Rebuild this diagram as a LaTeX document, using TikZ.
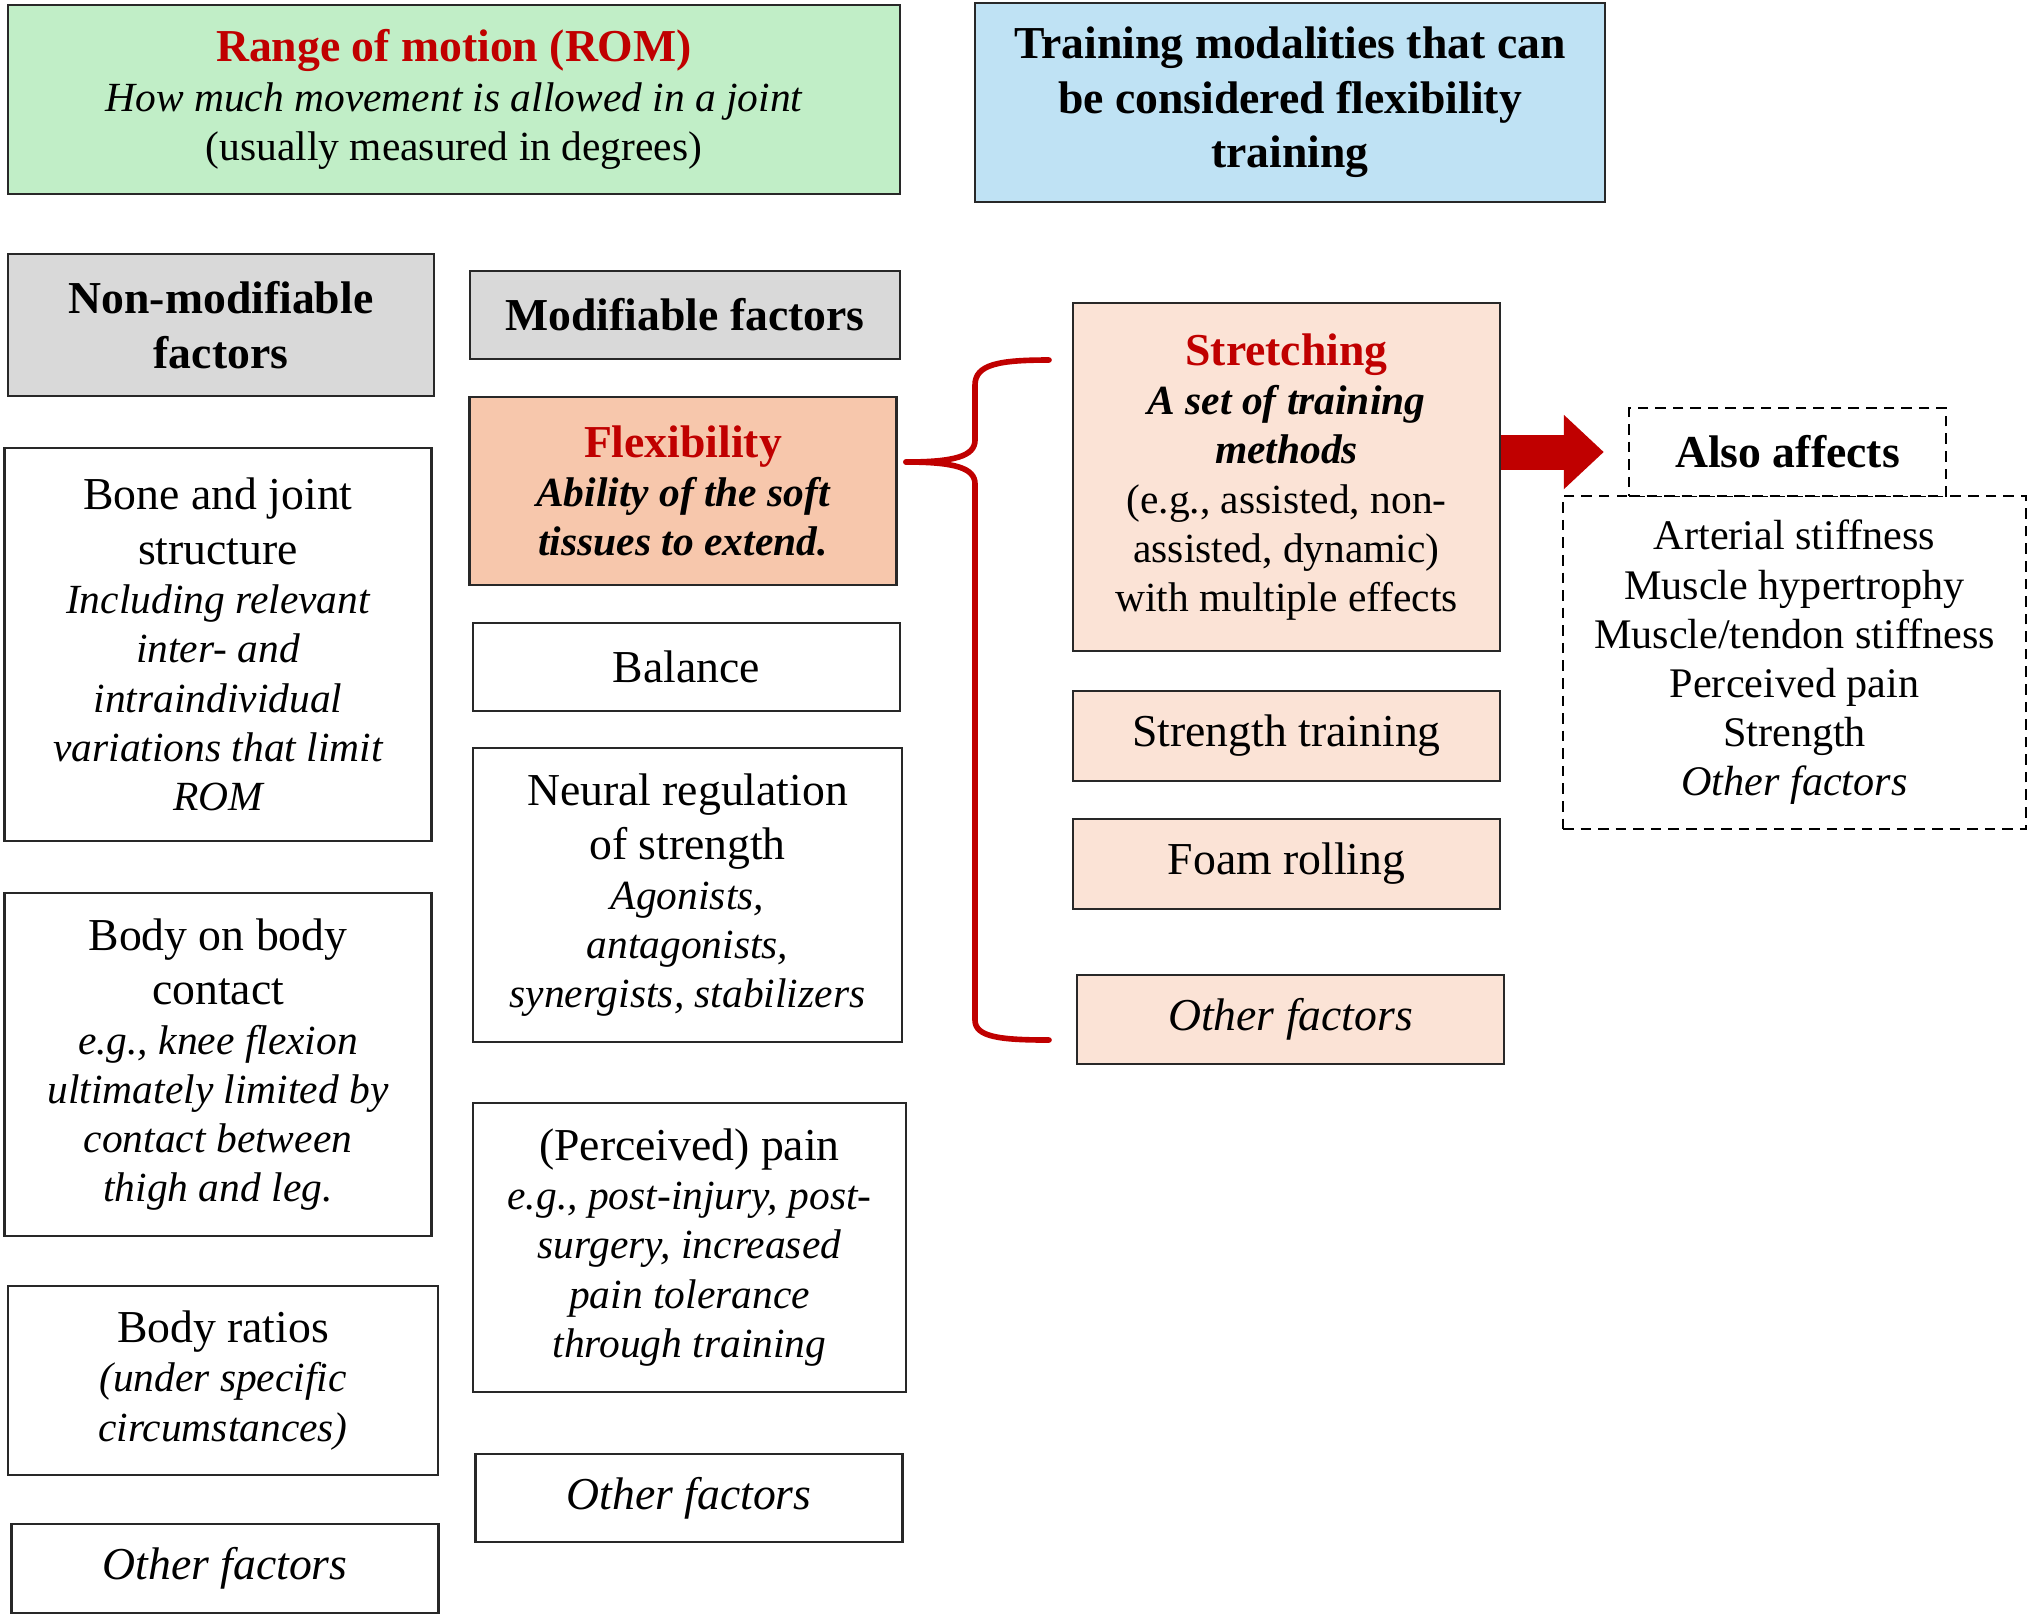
\documentclass[tikz,border=0pt]{standalone}
\usepackage{fontspec}
\setmainfont{Liberation Serif}
\usetikzlibrary{arrows.meta,calc}

\definecolor{romgreen}{RGB}{193,238,199}
\definecolor{trainblue}{RGB}{191,226,244}
\definecolor{headgray}{RGB}{217,217,217}
\definecolor{flexorange}{RGB}{247,199,172}
\definecolor{stretchpeach}{RGB}{251,227,214}
\definecolor{darkred}{RGB}{192,0,0}
\definecolor{boxline}{RGB}{40,40,40}

\newcommand{\redhead}[1]{{\color{darkred}\bfseries #1}}
% smaller text below the first lines of a box
\newcommand{\descpart}{\par\fontsize{11.8}{14}\selectfont}

\begin{document}
\begin{tikzpicture}[
        every node/.style={font=\fontsize{13}{15.5}\selectfont},
        factor/.style={rectangle, draw=boxline, line width=0.8pt, fill=white, text width=4.1cm, inner sep=0.085cm, align=flush center},
        header/.style={factor, fill=headgray, font=\fontsize{13}{15.5}\selectfont\bfseries},
        modality/.style={factor, fill=stretchpeach},
        effectbox/.style={rectangle, draw=black, line width=0.7pt, dash pattern=on 3pt off 2pt, align=center, inner sep=0.085cm},
        bigarrow/.style={-{Triangle[length=0.4cm, width=0.72cm]}, line width=0.35cm, draw=darkred},
        brace/.style={draw=darkred, line width=1.6pt, line cap=round}
        ]
        \useasboundingbox (0,0) rectangle (20.30,-16.21);

        % Top row
        \node[factor, fill=romgreen, text width=8.75cm, minimum height=1.89cm] (rom) at (4.54,-0.995) {\redhead{Range of motion (ROM)}\descpart\itshape How much movement is allowed in a joint\\\upshape (usually measured in degrees)\par};
        \node[header, fill=trainblue, text width=6.13cm, minimum height=1.99cm] (train) at (12.90,-1.025) {Training modalities that can\\be considered flexibility\\training};

        % Non-modifiable factors (left column)
        \node[header, text width=4.09cm, minimum height=1.42cm] (nonmod) at (2.21,-3.25) {Non-modifiable\\factors};
        \node[factor, minimum height=3.93cm] (bone) at (2.18,-6.445) {Bone and joint\\structure\descpart\itshape Including relevant\\inter- and\\intraindividual\\variations that limit\\ROM\par};
        \node[factor, minimum height=3.43cm] (contact) at (2.18,-10.645) {Body on body\\contact\descpart\itshape e.g., knee flexion\\ultimately limited by\\contact between\\thigh and leg.\par};
        \node[factor, text width=4.13cm, minimum height=1.89cm] (ratios) at (2.23,-13.805) {Body ratios\descpart\itshape (under specific\\circumstances)\par};
        \node[factor, minimum height=0.89cm] (otherleft) at (2.25,-15.685) {\itshape Other factors};

        % Modifiable factors (middle column)
        \node[header, text width=4.13cm, minimum height=0.88cm] (mod) at (6.85,-3.15) {Modifiable factors};
        \node[factor, fill=flexorange, minimum height=1.88cm] (flex) at (6.83,-4.91) {\redhead{Flexibility}\descpart\bfseries\itshape Ability of the soft\\tissues to extend.\par};
        \node[factor, minimum height=0.88cm] (balance) at (6.865,-6.67) {Balance};
        \node[factor, text width=4.12cm, minimum height=2.94cm] (neural) at (6.875,-8.95) {Neural regulation\\of strength\descpart\itshape Agonists,\\antagonists,\\synergists, stabilizers\par};
        \node[factor, text width=4.16cm, minimum height=2.89cm] (pain) at (6.895,-12.475) {(Perceived) pain\descpart\itshape e.g., post-injury, post-\\surgery, increased\\pain tolerance\\through training\par};
        \node[factor, minimum height=0.88cm] (othermid) at (6.89,-14.98) {\itshape Other factors};

        % Training modalities (right column)
        \node[modality, minimum height=3.48cm] (stretch) at (12.865,-4.77) {\redhead{Stretching}\descpart{\bfseries\itshape A set of training\\methods}\\(e.g., assisted, non-\\assisted, dynamic)\\with multiple effects\par};
        \node[modality, minimum height=0.90cm] (strength) at (12.865,-7.36) {Strength training};
        \node[modality, minimum height=0.90cm] (foam) at (12.865,-8.64) {Foam rolling};
        \node[modality, minimum height=0.89cm] (otherright) at (12.905,-10.195) {\itshape Other factors};

        % Effects of stretching
        \node[effectbox, minimum width=4.63cm, minimum height=3.33cm, font=\fontsize{12}{14}\selectfont] (effects) at (17.945,-6.625) {Arterial stiffness\\Muscle hypertrophy\\Muscle/tendon stiffness\\Perceived pain\\Strength\\\textit{Other factors}};
        \node[effectbox, fill=white, minimum width=3.17cm, minimum height=0.88cm, font=\fontsize{13}{15.5}\selectfont\bfseries] (also) at (17.875,-4.52) {Also affects};

        % Brace grouping the modalities
        \coordinate (bracetop) at (10.49,-3.60);
        \coordinate (bracetip) at (9.06,-4.62);
        \coordinate (bracebot) at (10.49,-10.40);
        \draw[brace] (bracetop) .. controls (10.0,-3.60) and (9.75,-3.64) .. (9.75,-3.85) -- (9.75,-4.40) .. controls (9.75,-4.56) and (9.55,-4.62) .. (bracetip);
        \draw[brace] (bracetip) .. controls (9.55,-4.62) and (9.75,-4.68) .. (9.75,-4.84) -- (9.75,-10.20) .. controls (9.75,-10.37) and (10.0,-10.40) .. (bracebot);

        % Arrow to effects
        \draw[bigarrow] (stretch.east |- also.west) -- ([xshift=-2.4mm]also.west);

    \end{tikzpicture}
\end{document}
